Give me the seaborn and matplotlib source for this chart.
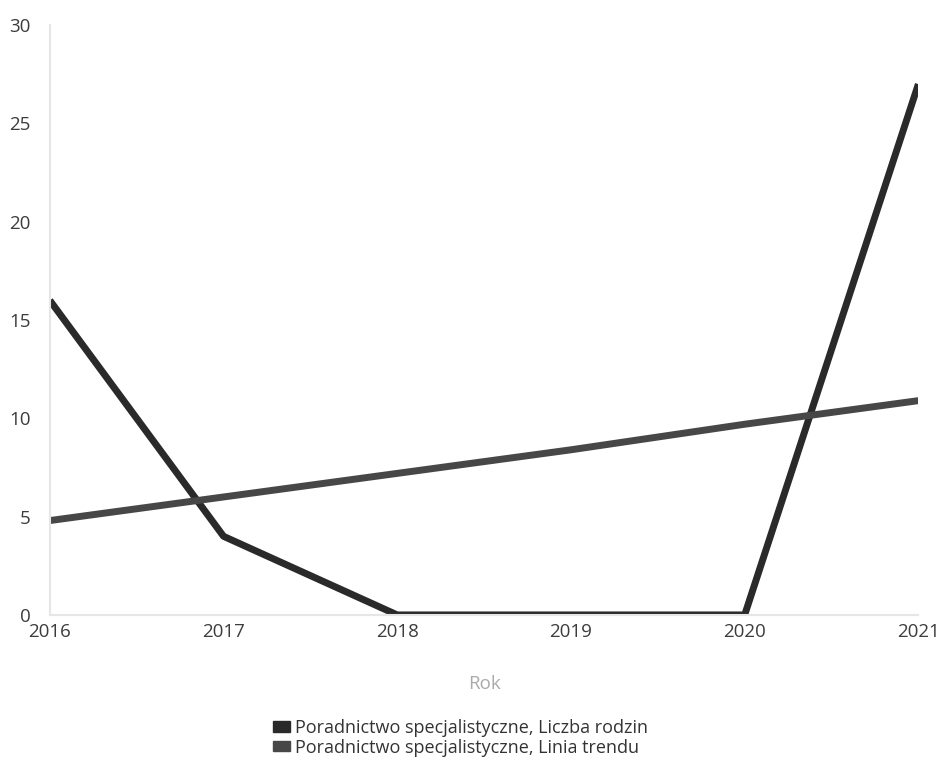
import matplotlib.pyplot as plt
import pandas as pd
import seaborn as sns
from matplotlib.patches import Patch

years = [2016, 2017, 2018, 2019, 2020, 2021]
rodziny = [16, 4, 0, 0, 0, 27]
trend = [4.8, 6.0, 7.2, 8.4, 9.7, 10.9]
series_names = [
    "Poradnictwo specjalistyczne, Liczba rodzin",
    "Poradnictwo specjalistyczne, Linia trendu",
]
colors = ["#2a2a2a", "#474747"]

df = pd.DataFrame({"Rok": years, series_names[0]: rodziny, series_names[1]: trend})
long_df = df.melt(id_vars="Rok", var_name="seria", value_name="wartosc")

sns.set_theme(style="white")
plt.rcParams["font.family"] = ["Open Sans", "DejaVu Sans"]

fig = plt.figure(figsize=(9.4, 7.62), dpi=100)
ax = fig.add_axes([0.053, 0.193, 0.924, 0.774])

sns.lineplot(
    data=long_df, x="Rok", y="wartosc", hue="seria",
    palette=colors, linewidth=5, ax=ax, legend=False,
)
for line in ax.lines:
    line.set_solid_capstyle("butt")

ax.set_xlim(2016, 2021)
ax.set_ylim(0, 30)
ax.set_xticks(years)
ax.set_yticks(range(0, 31, 5))
ax.tick_params(axis="both", labelsize=13.5, colors="#3c3c3c", length=0, pad=6)
ax.tick_params(axis="y", pad=14)
ax.set_ylabel("")
ax.set_xlabel("Rok", fontsize=13.5, color="#aaaaaa", labelpad=24)

for side in ["top", "right"]:
    ax.spines[side].set_visible(False)
for side in ["left", "bottom"]:
    ax.spines[side].set_color("#e6e6e6")
    ax.spines[side].set_linewidth(1.5)

handles = [Patch(facecolor=c, edgecolor=c) for c in colors]
fig.legend(
    handles, series_names, loc="upper center", bbox_to_anchor=(0.49, 0.078),
    frameon=False, fontsize=13, handlelength=0.9, handleheight=0.5,
    handletextpad=0.3, labelspacing=0.1, labelcolor="#333333",
)

fig.savefig("out.png", dpi=100)
